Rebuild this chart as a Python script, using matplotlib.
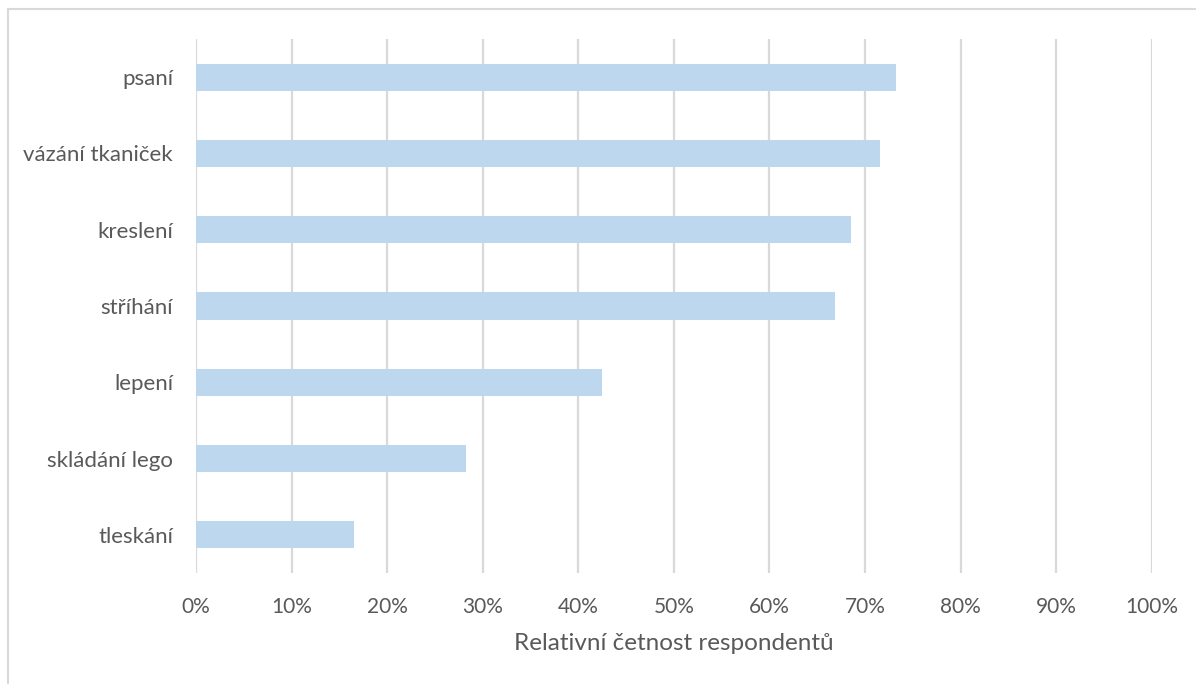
import matplotlib
matplotlib.use("Agg")
import matplotlib.pyplot as plt
from matplotlib.patches import Rectangle
from matplotlib.ticker import FuncFormatter

# Activities and share of respondents (in %)
categories = ["psaní", "vázání tkaniček", "kreslení", "stříhání",
              "lepení", "skládání lego", "tleskání"]
values = [73.2, 71.6, 68.5, 66.9, 42.5, 28.3, 16.5]
x_ticks = [0, 10, 20, 30, 40, 50, 60, 70, 80, 90, 100]
x_label = "Relativní četnost respondentů"

text_color = "#595959"
grid_color = "#D9D9D9"
bar_color = "#BDD7EE"

plt.rcParams["font.family"] = ["Lato", "DejaVu Sans"]

W, H = 1196, 684
fig = plt.figure(figsize=(W / 100, H / 100), dpi=100)
ax = fig.add_axes([196 / W, 1 - 573 / H, (1151.7 - 196) / W, (573 - 39) / H])

ypos = list(range(len(categories)))
ax.barh(ypos, values, height=0.355, color=bar_color, zorder=3)
ax.set_ylim(len(categories) - 0.5, -0.5)
ax.set_xlim(0, 100)

ax.set_yticks(ypos)
ax.set_yticklabels(categories)
ax.set_xticks(x_ticks)
ax.xaxis.set_major_formatter(FuncFormatter(lambda v, p: f"{v:.0f}%"))
ax.tick_params(axis="both", length=0, colors=text_color)
ax.tick_params(axis="y", pad=16.5, labelsize=16)
ax.tick_params(axis="x", pad=17, labelsize=15)

ax.grid(axis="x", color=grid_color, linewidth=1.6, zorder=0)
ax.grid(axis="y", visible=False)
for s in ax.spines.values():
    s.set_visible(False)

ax.set_xlabel(x_label, fontsize=17.5, color=text_color, labelpad=12)

# Chart-area border
fig.patches.append(Rectangle((7.5 / W, -0.1), 1.2, 1.1 - 9.5 / H,
                             transform=fig.transFigure, fill=False,
                             edgecolor=grid_color, linewidth=1.5))

fig.savefig("out.png", dpi=100)
